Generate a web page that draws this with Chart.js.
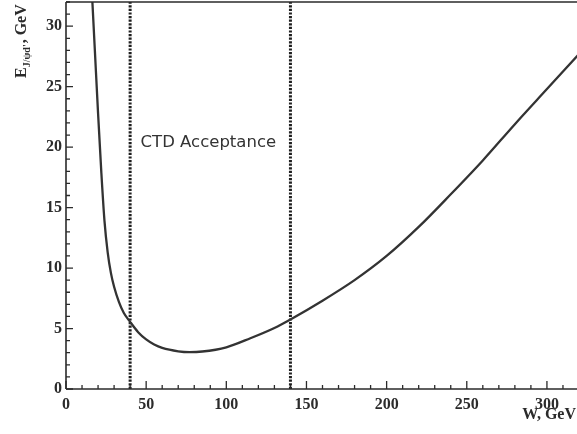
<!DOCTYPE html>
<html>
<head>
<meta charset="utf-8">
<script src="https://cdn.jsdelivr.net/npm/chart.js@4/dist/chart.umd.min.js"></script>
<style>
  html, body { margin: 0; padding: 0; background: #fff; overflow: hidden; }
  #wrap { width: 577px; height: 434px; overflow: hidden; }
</style>
</head>
<body>
<div id="wrap"><canvas id="chart" width="590" height="434"></canvas></div>
<script>
// curve: W (GeV) vs E (GeV)
const wValues = [16, 18, 20, 22, 24, 26, 28, 30, 33, 36, 40, 45, 50, 55, 60, 70, 77, 85, 100, 115, 130, 140, 160, 180, 200, 220, 240, 260, 280, 300, 320];
const eValues = [33.2, 28.0, 22.8, 18.0, 13.9, 11.3, 9.6, 8.45, 7.2, 6.3, 5.55, 4.7, 4.1, 3.68, 3.4, 3.12, 3.05, 3.1, 3.45, 4.2, 5.05, 5.75, 7.3, 9.0, 11.0, 13.4, 16.1, 18.9, 21.9, 24.8, 27.7];
const acceptanceCuts = [40, 140];
const xTicks = [0, 50, 100, 150, 200, 250, 300];
const yTicks = [0, 5, 10, 15, 20, 25, 30];
const xRange = [0, 320];
const yRange = [0, 32];

const ink = '#2b2b2b';
const serifBold = 'bold 16px "Liberation Serif", "DejaVu Serif", serif';

const curve = wValues.map((w, i) => ({ x: w, y: eValues[i] }));
const cutSets = acceptanceCuts.map(w => ({
  data: [{ x: w, y: yRange[0] }, { x: w, y: yRange[1] }],
  showLine: true,
  pointRadius: 0,
  borderColor: '#1e1e1e',
  borderWidth: 3,
  borderDash: [2.2, 1.4],
  clip: 0
}));

// frame, inward ticks and text labels
const decor = {
  id: 'decor',
  afterDraw(chart) {
    const { ctx, chartArea: a, scales: { x, y } } = chart;
    ctx.save();
    ctx.strokeStyle = ink;
    ctx.lineWidth = 1.6;
    ctx.beginPath();
    ctx.moveTo(a.left, a.top); ctx.lineTo(a.right, a.top);
    ctx.moveTo(a.left, a.top); ctx.lineTo(a.left, a.bottom);
    ctx.moveTo(a.left, a.bottom); ctx.lineTo(a.right, a.bottom);
    ctx.stroke();

    ctx.lineWidth = 1.3;
    ctx.beginPath();
    for (let v = xRange[0]; v <= xRange[1]; v += 10) {
      const px = x.getPixelForValue(v);
      const len = v % 50 === 0 ? 8 : 4;
      ctx.moveTo(px, a.bottom); ctx.lineTo(px, a.bottom - len);
    }
    for (let v = yRange[0]; v <= yRange[1]; v += 1) {
      const py = y.getPixelForValue(v);
      const len = v % 5 === 0 ? 7 : 4;
      ctx.moveTo(a.left, py); ctx.lineTo(a.left + len, py);
    }
    ctx.stroke();

    // CTD text
    ctx.fillStyle = '#333';
    ctx.font = '16.5px "DejaVu Sans", sans-serif';
    ctx.textBaseline = 'middle';
    ctx.textAlign = 'left';
    ctx.fillText('CTD Acceptance', x.getPixelForValue(46.5), y.getPixelForValue(20.4));

    // x title
    ctx.fillStyle = ink;
    ctx.font = serifBold;
    ctx.textAlign = 'right';
    ctx.textBaseline = 'alphabetic';
    ctx.fillText('W, GeV', 576, 419);

    // y title
    ctx.translate(26, 78);
    ctx.rotate(-Math.PI / 2);
    ctx.textAlign = 'left';
    ctx.font = serifBold;
    ctx.fillText('E', 0, 0);
    let off = ctx.measureText('E').width;
    ctx.font = 'bold 10px "Liberation Serif", serif';
    ctx.fillText('J/\u03C8d\'', off, 4);
    off += ctx.measureText('J/\u03C8d\'').width + 1;
    ctx.font = serifBold;
    ctx.fillText(', GeV', off, 0);
    ctx.restore();
  }
};

new Chart(document.getElementById('chart'), {
  type: 'scatter',
  data: {
    datasets: [{
      data: curve,
      showLine: true,
      pointRadius: 0,
      borderColor: '#333',
      borderWidth: 2.3,
      cubicInterpolationMode: 'monotone',
      clip: 0
    }, ...cutSets]
  },
  options: {
    responsive: false,
    animation: false,
    layout: { padding: { left: 0, top: 2, right: 11, bottom: 0 } },
    plugins: { legend: { display: false }, tooltip: { enabled: false } },
    scales: {
      x: {
        type: 'linear',
        min: xRange[0], max: xRange[1],
        border: { display: false },
        grid: { display: false, drawTicks: false },
        afterBuildTicks: s => { s.ticks = xTicks.map(v => ({ value: v })); },
        afterFit: s => { s.height = 45; s.paddingLeft = 0; s.paddingRight = 0; },
        ticks: { padding: 6, color: ink, font: { family: '"Liberation Serif", serif', weight: 'bold', size: 16 } }
      },
      y: {
        type: 'linear',
        min: yRange[0], max: yRange[1],
        border: { display: false },
        grid: { display: false, drawTicks: false },
        afterBuildTicks: s => { s.ticks = yTicks.map(v => ({ value: v })); },
        afterFit: s => { s.width = 66; s.paddingTop = 0; s.paddingBottom = 0; },
        ticks: { padding: 4, color: ink, font: { family: '"Liberation Serif", serif', weight: 'bold', size: 16 } }
      }
    }
  },
  plugins: [decor]
});
</script>
</body>
</html>
